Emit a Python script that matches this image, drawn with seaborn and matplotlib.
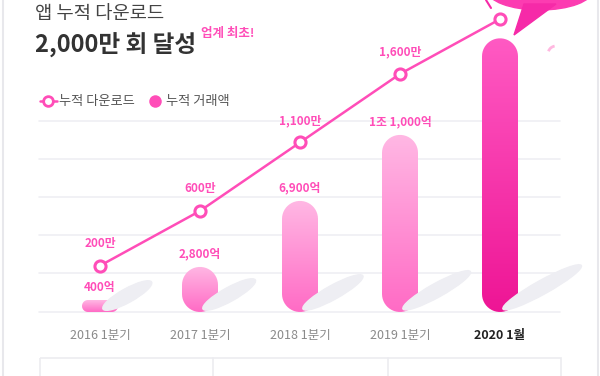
import numpy as np
import pandas as pd
import seaborn as sns
import matplotlib.pyplot as plt
from matplotlib.patches import Ellipse, Polygon, Rectangle, Arc
from matplotlib.lines import Line2D
from matplotlib.colors import LinearSegmentedColormap
from matplotlib.transforms import Affine2D

# ---------------------------------
# Data
# ---------------------------------
periods = ["2016 1분기", "2017 1분기", "2018 1분기", "2019 1분기", "2020 1월"]
sales = [400, 2800, 6900, 11000, 17000]          # 누적 거래액 (억)
sales_labels = ["400억", "2,800억", "6,900억", "1조 1,000억", ""]
downloads = [200, 600, 1100, 1600, 2000]          # 누적 다운로드 (만)
download_labels = ["200만", "600만", "1,100만", "1,600만", ""]

df = pd.DataFrame({"period": periods, "sales": sales, "downloads": downloads})
df["pos"] = np.arange(len(df))

PINK = "#ff4db8"
W, H = 600, 376

sns.set_theme(style="white")
plt.rcParams['font.family'] = ['Noto Sans CJK KR', 'DejaVu Sans']

fig = plt.figure(figsize=(W / 100, H / 100), dpi=100)
fig.patch.set_facecolor("white")
# transform for image pixel coordinates (origin top-left)
pix = Affine2D().scale(1 / W, -1 / H).translate(0, 1) + fig.transFigure

ax = fig.add_axes([39 / W, 1 - 312 / H, (560 - 39) / W, 312 / H])
ax.set_facecolor("none")

# grid lines
for gy in [121, 159, 197, 235, 273, 311.5]:
    fig.add_artist(Line2D([39, 560], [gy, gy], color="#efeff3", lw=1.2, transform=pix, zorder=0))


def stadium(x0, top, w, h, n=24):
    """pill outline in pixel coords (y down)"""
    r = min(w, h) / 2
    if w <= h:
        cx = x0 + w / 2
        t = np.linspace(np.pi, 0, n)
        up = np.c_[cx + r * np.cos(t), top + r - r * np.sin(t)]
        lo = np.c_[cx - r * np.cos(t), top + h - r + r * np.sin(t)]
        return np.vstack([up, lo])
    cy = top + h / 2
    t = np.linspace(np.pi / 2, 3 * np.pi / 2, n)
    left = np.c_[x0 + r + r * np.cos(t), cy - r * np.sin(t)]
    right = np.c_[x0 + w - r - r * np.cos(t), cy + r * np.sin(t)]
    return np.vstack([left, right])


# ---------------------------------
# Bars (sales)
# ---------------------------------
sns.barplot(data=df, x="period", y="sales", ax=ax, width=0.36, color=PINK, zorder=3)
xlim = (-0.61, 4.60)
ylim = (0, 19380)
ax.set_xlim(*xlim)
ax.set_ylim(*ylim)

light = LinearSegmentedColormap.from_list("light", ["#ff6bc5", "#ffb8e4"])
strong = LinearSegmentedColormap.from_list("strong", ["#ee1595", "#ff5ac3"])
grad = np.linspace(0, 1, 256).reshape(-1, 1)

for i, patch in enumerate(list(ax.patches)):
    patch.set_visible(False)
    x0, w, h = patch.get_x(), patch.get_width(), patch.get_height()
    (dx0, dy0), (dx1, dy1) = ax.transData.transform([(x0, 0), (x0 + w, h)])
    bottom = H - dy0
    top = min(H - dy1, bottom - 12)
    bw, bh = dx1 - dx0, bottom - top
    cx = (dx0 + dx1) / 2

    # soft shadow behind each bar
    L = 54 + 0.13 * bh
    a = np.deg2rad(29)
    sh = Ellipse((cx + 3 + L / 2 * np.cos(a), bottom - 3 - L / 2 * np.sin(a)), L, 14, angle=-29,
                 transform=pix, color="#eeeef3", zorder=1)
    fig.add_artist(sh)

    pill = Polygon(stadium(dx0, top, bw, bh), closed=True, transform=pix, fc="none", ec="none")
    top_data = ax.transData.inverted().transform((cx, H - top))[1]
    im = ax.imshow(grad, extent=(x0, x0 + w, 0, top_data), origin="lower", aspect="auto",
                   cmap=strong if i == len(df) - 1 else light, zorder=3)
    im.set_clip_path(pill)

    if sales_labels[i]:
        ax.annotate(sales_labels[i], (x0 + w / 2, top_data), xytext=(0, 13),
                    textcoords="offset pixels", ha="center", va="center",
                    fontsize=8.5, fontweight="bold", color=PINK, zorder=5)

ax.set_xlim(*xlim)
ax.set_ylim(*ylim)

# ---------------------------------
# Line (downloads)
# ---------------------------------
ax2 = ax.twinx()
sns.lineplot(data=df, x="pos", y="downloads", ax=ax2, color=PINK, lw=1.8, marker="o",
             markersize=8, markerfacecolor="white", markeredgecolor=PINK, markeredgewidth=2.2,
             zorder=6, clip_on=False)
ax2.set_xlim(*xlim)
ax2.set_ylim(-138, 2140)
for i, lab in enumerate(download_labels):
    if lab:
        ax2.annotate(lab, (df["pos"][i], downloads[i]), xytext=(0, 22),
                     textcoords="offset pixels", ha="center", va="center",
                     fontsize=8.5, fontweight="bold", color=PINK, zorder=7)

for a_ in (ax, ax2):
    for s in a_.spines.values():
        s.set_visible(False)
    a_.set_yticks([])
    a_.set_ylabel("")
    a_.set_xlabel("")

ax.tick_params(axis="x", length=0, pad=12, labelsize=9, labelcolor="#8a8a8a")
ax2.tick_params(axis="x", length=0)
ticklabels = ax.get_xticklabels()
ticklabels[-1].set_fontweight("bold")
ticklabels[-1].set_color("#222222")

# ---------------------------------
# Titles and legend
# ---------------------------------
fig.text(35, 14, "앱 누적 다운로드", transform=pix, fontsize=13.5, color="#444444", va="center")
fig.text(35, 45, "2,000만 회 달성", transform=pix, fontsize=17, fontweight="bold",
         color="#333333", va="center")
fig.text(201, 34, "업계 최초!", transform=pix, fontsize=9, fontweight="bold", color=PINK, va="center")

handles = [Line2D([], [], color=PINK, lw=1.8, marker="o", ms=7, mfc="white", mew=2),
           Line2D([], [], color=PINK, ls="none", marker="o", ms=9, mew=0)]
leg = ax.legend(handles, ["누적 다운로드", "누적 거래액"], loc="center left", ncol=2,
                bbox_to_anchor=(28, 102), bbox_transform=pix, frameon=False, numpoints=1,
                handlelength=1.3, handletextpad=0.15, columnspacing=0.9, fontsize=9.5)
for t in leg.get_texts():
    t.set_color("#555555")

# ---------------------------------
# Decorations: speech bubble, frame, bottom table
# ---------------------------------
fig.add_artist(Ellipse((540, -10), 106, 40, transform=pix, color="#fc3cb1", zorder=4))
fig.add_artist(Polygon([(524, 4), (556, 4), (514, 35)], transform=pix, color="#f62aa8", zorder=4))
fig.add_artist(Line2D([486, 491], [0, 8], transform=pix, color="#f62aa8", lw=1.5))
fig.add_artist(Arc((556, 54), 16, 16, angle=0, theta1=200, theta2=260, transform=pix,
                   color="#ffb8e0", lw=2))

fig.add_artist(Line2D([2.5, 2.5], [0, H], transform=pix, color="#e8e8ec", lw=1.5))
fig.add_artist(Line2D([597.5, 597.5], [0, H], transform=pix, color="#e8e8ec", lw=1.5))
fig.add_artist(Rectangle((39.5, 358), 521, 40, transform=pix, fc="none", ec="#ececf0", lw=1.2))
for vx in [213, 388]:
    fig.add_artist(Line2D([vx, vx], [358, H], transform=pix, color="#ececf0", lw=1.2))

fig.savefig("out.png", dpi=100)
